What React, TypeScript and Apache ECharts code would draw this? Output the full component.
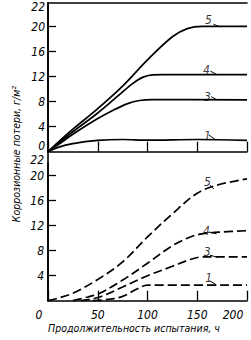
import React, { useEffect, useRef } from "react";
import * as echarts from "echarts";

// Axis ticks / labels
const xTickValues = [0, 50, 100, 150, 200];
const yTickValues = [4, 8, 12, 16, 20];
const yLabelTop = [0, 4, 8, 12, 16, 20, 22];
const yLabelBottom = [4, 8, 12, 16, 20, 22];

// Upper panel (solid lines): [hours, g/m2]
const top5 = [[0, 0], [10, 1.5], [25, 3.6], [50, 6.9], [75, 10.5], [100, 14.7], [125, 18.4], [140, 19.7], [155, 20.05], [200, 20.05]];
const top4 = [[0, 0], [10, 1.3], [25, 3.2], [50, 6.2], [70, 8.9], [85, 10.9], [95, 11.9], [105, 12.3], [115, 12.35], [200, 12.35]];
const top3 = [[0, 0], [10, 1.1], [25, 2.8], [50, 5.3], [65, 6.6], [80, 7.7], [92, 8.2], [105, 8.35], [200, 8.3]];
const top1 = [[0, 0], [10, 0.7], [25, 1.3], [50, 1.8], [75, 1.95], [100, 1.85], [150, 1.95], [200, 1.8]];

// Lower panel (dashed lines)
const bot5 = [[0, 0], [10, 0.4], [25, 1.2], [50, 3.4], [75, 6.2], [100, 10.2], [125, 13.9], [150, 17.2], [170, 18.5], [200, 19.5]];
const bot4 = [[25, 0], [40, 0.6], [52, 1.2], [75, 3.3], [100, 6.0], [125, 8.8], [143, 10.2], [155, 10.7], [175, 11.0], [200, 11.2]];
const bot3 = [[33, 0], [52, 0.6], [75, 2.2], [100, 4.0], [125, 5.5], [143, 6.6], [155, 7.0], [200, 7.0]];
const bot1 = [[45, 0], [60, 0.2], [75, 0.7], [90, 1.9], [100, 2.5], [200, 2.5]];

// Curve number annotations: [x, y, text]
const topNumbers = [[161.3, 21.1, "5"], [159.3, 13.1, "4"], [160.3, 8.7, "3"], [160.3, 2.5, "1"]];
const topLeaders = [[[166.4, 20.4], [172.4, 20.0]], [[163.3, 12.9], [170.1, 12.3]], [[164, 8.8], [170, 8.3]], [[161.6, 2.7], [168.4, 1.9]]];
const botNumbers = [[160.3, 19.0, "5"], [159.3, 11.2, "4"], [160, 7.8, "3"], [161.5, 3.6, "1"]];
const botLeaders = [[[162.6, 18.5], [166.7, 17.9]], [[161.6, 11.0], [169.4, 10.7]], [[162.6, 7.3], [170.1, 6.95]], [[162.6, 3.2], [169.4, 2.5]]];

const yTitle = "Коррозионные потери, г/м²";
const xTitle = "Продолжительность испытания, ч";

const FONT = "'DejaVu Sans Condensed', 'DejaVu Sans', sans-serif";
const INK = "#000";

export default function App() {
  const ref = useRef<HTMLDivElement>(null);
  useEffect(() => {
    if (!ref.current) return;
    const chart = echarts.init(ref.current, null, { renderer: "svg" });
    const txt = { fontFamily: FONT, fontStyle: "italic", fontSize: 12, color: INK };
    const axisLine = { show: true, lineStyle: { color: INK, width: 1.6 } };
    const tickY = { show: true, inside: true, length: 8, customValues: yTickValues, lineStyle: { color: INK, width: 1.3 } };
    const tickX = { show: true, inside: true, length: 10, customValues: xTickValues, lineStyle: { color: INK, width: 1.3 } };
    const solid = (data: number[][]) => ({
      type: "line", xAxisIndex: 0, yAxisIndex: 0, data, smooth: 0.35, symbol: "none",
      lineStyle: { color: INK, width: 1.7 }, silent: true,
    });
    const dashed = (data: number[][]) => ({
      type: "line", xAxisIndex: 2, yAxisIndex: 1, data, smooth: 0.35, symbol: "none",
      lineStyle: { color: INK, width: 1.7, type: [9, 4] }, silent: true,
    });
    const numbers = (data: any[], xi: number, yi: number) => ({
      type: "scatter", xAxisIndex: xi, yAxisIndex: yi, data, symbolSize: 0, silent: true,
      label: { show: true, position: "inside", formatter: (p: any) => p.data[2], ...txt, fontSize: 12 },
    });
    const leaders = (data: number[][][], xi: number, yi: number) => ({
      type: "lines", coordinateSystem: "cartesian2d", xAxisIndex: xi, yAxisIndex: yi, silent: true,
      data: data.map((c) => ({ coords: c })), lineStyle: { color: INK, width: 1, opacity: 1 },
    });
    chart.setOption({
      animation: false,
      backgroundColor: "#fff",
      grid: [
        { left: 48, right: 4, top: 3, height: 148.7 },
        { left: 48, right: 4, top: 163.2, height: 137.5 },
        { left: 48, right: 4, top: 3, bottom: 39.3 },
      ],
      xAxis: [
        { type: "value", gridIndex: 0, min: 0, max: 200, interval: 50, axisLine, axisTick: tickX, axisLabel: { show: false }, splitLine: { show: false } },
        { type: "value", gridIndex: 0, position: "top", min: 0, max: 200, axisLine, axisTick: { show: false }, axisLabel: { show: false }, splitLine: { show: false } },
        {
          type: "value", gridIndex: 1, min: 0, max: 200, interval: 50, axisLine, axisTick: tickX, splitLine: { show: false },
          axisLabel: {
            ...txt, margin: 8, customValues: xTickValues,
            formatter: (v: number) => (v === 0 ? "{a|0}" : v === 200 ? "{b|200}" : String(v)),
            rich: { a: { ...txt, padding: [0, 18, 0, 0] }, b: { ...txt, padding: [0, 28, 0, 0] } },
          },
        },
        { type: "value", gridIndex: 2, min: 0, max: 1, show: false },
      ],
      yAxis: [
        {
          type: "value", gridIndex: 0, min: 0, max: 23.8, interval: 4, axisLine, axisTick: tickY, splitLine: { show: false },
          axisLabel: {
            ...txt, margin: 3, customValues: yLabelTop,
            formatter: (v: number) => (v === 0 ? "{z|0}" : v === 22 ? "{t|22}" : String(v)),
            rich: { z: { ...txt, padding: [0, 0, 11, 0] }, t: { ...txt, padding: [0, 0, 14, 0] } },
          },
        },
        {
          type: "value", gridIndex: 1, min: 0, max: 22, interval: 4, axisLine, axisTick: tickY, splitLine: { show: false },
          axisLabel: {
            ...txt, margin: 4, customValues: yLabelBottom,
            formatter: (v: number) => (v === 22 ? "{t|22}" : String(v)),
            rich: { t: { ...txt, padding: [0, 0, 6, 0] } },
          },
        },
        { type: "value", gridIndex: 2, position: "right", min: 0, max: 1, axisLine, axisTick: { show: false }, axisLabel: { show: false }, splitLine: { show: false } },
      ],
      graphic: [
        { type: "text", x: 16, y: 154, rotation: Math.PI / 2, style: { text: yTitle, font: `italic 10.5px ${FONT}`, fill: INK, align: "center", verticalAlign: "middle" } },
        { type: "text", x: 134, y: 328, style: { text: xTitle, font: `italic 10.5px ${FONT}`, fill: INK, align: "center", verticalAlign: "middle" } },
      ],
      series: [
        solid(top5), solid(top4), solid(top3), solid(top1),
        dashed(bot5), dashed(bot4), dashed(bot3), dashed(bot1),
        numbers(topNumbers, 0, 0), numbers(botNumbers, 2, 1),
        leaders(topLeaders, 0, 0), leaders(botLeaders, 2, 1),
      ],
    });
    return () => chart.dispose();
  }, []);
  return <div ref={ref} style={{ position: "fixed", left: 0, top: 0, width: 251, height: 340, background: "#fff" }} />;
}
